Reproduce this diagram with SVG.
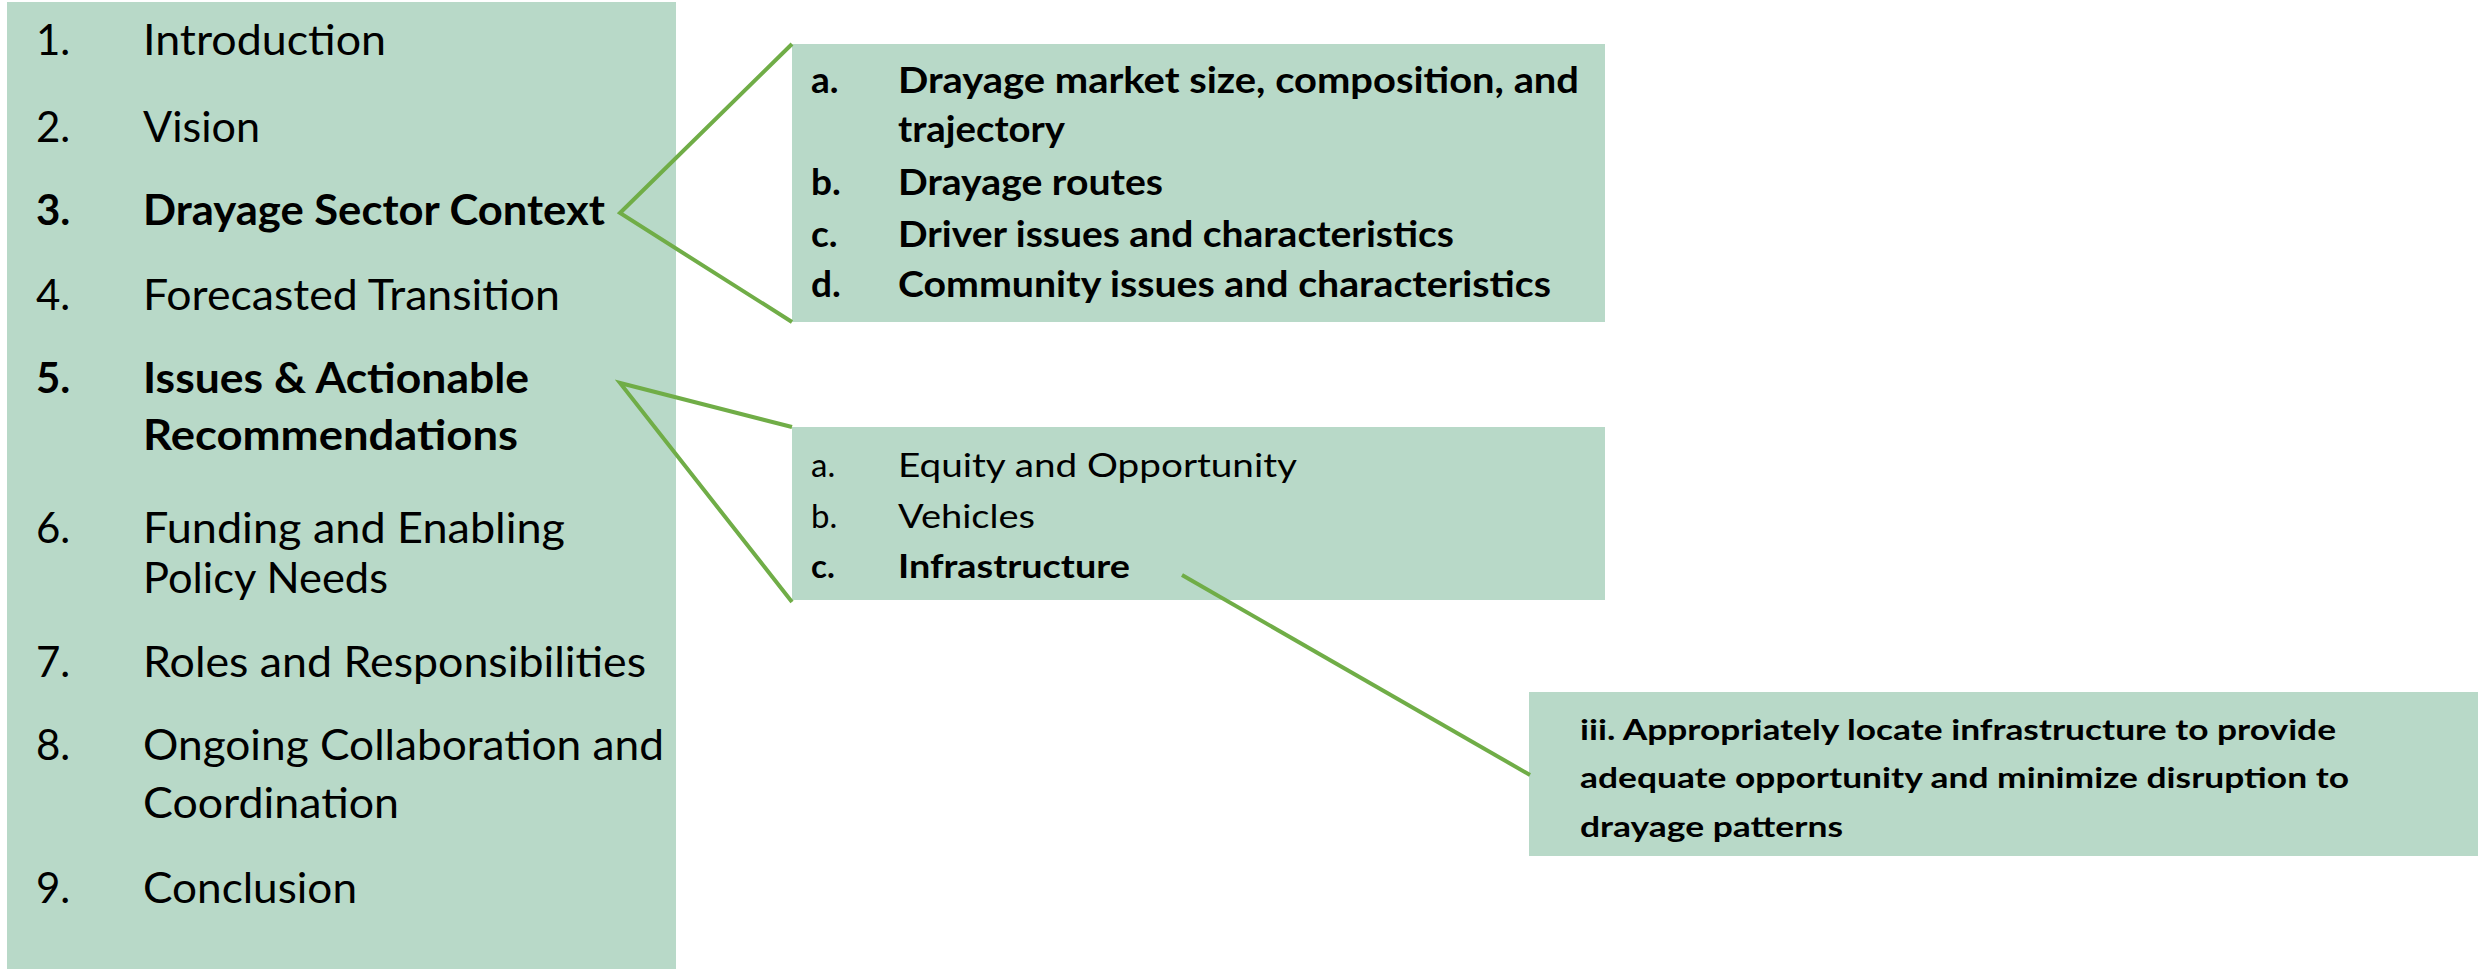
<svg xmlns="http://www.w3.org/2000/svg" width="2478" height="971" viewBox="0 0 2478 971">
  <style>
    .box { fill: #B8D9C8; }
    .t { font-family: "Lato", "Open Sans", "Liberation Sans", sans-serif; fill: #000; }
    .reg { font-weight: 400; }
    .bold { font-weight: 700; }
    .toc { font-size: 42px; }
    .sub { font-size: 37px; }
    .sub2 { font-size: 33px; }
    .note { font-size: 29px; font-weight: 700; }
    .link { stroke: #70AD47; stroke-width: 4; fill: none; stroke-linecap: butt; stroke-linejoin: miter; }
  </style>

  <!-- Table of contents -->
  <g id="toc">
    <rect class="box" x="7" y="2" width="669" height="967"/>
    <g class="t toc">
      <text class="reg" x="36" y="55">1.</text>
      <text class="reg" x="143" y="55" textLength="243" lengthAdjust="spacingAndGlyphs">Introduction</text>
      <text class="reg" x="36" y="142">2.</text>
      <text class="reg" x="143" y="142" textLength="117" lengthAdjust="spacingAndGlyphs">Vision</text>
      <text class="bold" x="36" y="225">3.</text>
      <text class="bold" x="143" y="225" textLength="462" lengthAdjust="spacingAndGlyphs">Drayage Sector Context</text>
      <text class="reg" x="36" y="310">4.</text>
      <text class="reg" x="143" y="310" textLength="417" lengthAdjust="spacingAndGlyphs">Forecasted Transition</text>
      <text class="bold" x="36" y="393">5.</text>
      <text class="bold" x="143" y="393" textLength="386" lengthAdjust="spacingAndGlyphs">Issues &amp; Actionable</text>
      <text class="bold" x="143" y="450" textLength="375" lengthAdjust="spacingAndGlyphs">Recommendations</text>
      <text class="reg" x="36" y="543">6.</text>
      <text class="reg" x="143" y="543" textLength="422" lengthAdjust="spacingAndGlyphs">Funding and Enabling</text>
      <text class="reg" x="143" y="593" textLength="245" lengthAdjust="spacingAndGlyphs">Policy Needs</text>
      <text class="reg" x="36" y="677">7.</text>
      <text class="reg" x="143" y="677" textLength="503" lengthAdjust="spacingAndGlyphs">Roles and Responsibilities</text>
      <text class="reg" x="36" y="760">8.</text>
      <text class="reg" x="143" y="760" textLength="521" lengthAdjust="spacingAndGlyphs">Ongoing Collaboration and</text>
      <text class="reg" x="143" y="818" textLength="256" lengthAdjust="spacingAndGlyphs">Coordination</text>
      <text class="reg" x="36" y="903">9.</text>
      <text class="reg" x="143" y="903" textLength="214" lengthAdjust="spacingAndGlyphs">Conclusion</text>
    </g>
  </g>

  <!-- Drayage sector context sub-sections -->
  <g id="context">
    <rect class="box" x="792" y="44" width="813" height="278"/>
    <g class="t sub bold">
      <text x="811" y="93">a.</text>
      <text x="898" y="93" textLength="681" lengthAdjust="spacingAndGlyphs">Drayage market size, composition, and</text>
      <text x="898" y="142" textLength="167" lengthAdjust="spacingAndGlyphs">trajectory</text>
      <text x="811" y="195">b.</text>
      <text x="898" y="195" textLength="265" lengthAdjust="spacingAndGlyphs">Drayage routes</text>
      <text x="811" y="247">c.</text>
      <text x="898" y="247" textLength="556" lengthAdjust="spacingAndGlyphs">Driver issues and characteristics</text>
      <text x="811" y="297">d.</text>
      <text x="898" y="297" textLength="653" lengthAdjust="spacingAndGlyphs">Community issues and characteristics</text>
    </g>
  </g>

  <!-- Issues and recommendations sub-sections -->
  <g id="issues">
    <rect class="box" x="792" y="427" width="813" height="173"/>
    <g class="t sub2">
      <text class="reg" x="811" y="477">a.</text>
      <text class="reg" x="898" y="477" textLength="399" lengthAdjust="spacingAndGlyphs">Equity and Opportunity</text>
      <text class="reg" x="811" y="528">b.</text>
      <text class="reg" x="898" y="528" textLength="137" lengthAdjust="spacingAndGlyphs">Vehicles</text>
      <text class="bold" x="811" y="578">c.</text>
      <text class="bold" x="898" y="578" textLength="232" lengthAdjust="spacingAndGlyphs">Infrastructure</text>
    </g>
  </g>

  <!-- Infrastructure recommendation -->
  <g id="infrastructure">
    <rect class="box" x="1529" y="692" width="949" height="164"/>
    <g class="t note">
      <text x="1580" y="740" textLength="756" lengthAdjust="spacingAndGlyphs">iii. Appropriately locate infrastructure to provide</text>
      <text x="1580" y="788" textLength="769" lengthAdjust="spacingAndGlyphs">adequate opportunity and minimize disruption to</text>
      <text x="1580" y="837" textLength="263" lengthAdjust="spacingAndGlyphs">drayage patterns</text>
    </g>
  </g>

  <!-- Connectors, drawn over the boxes -->
  <g id="connectors">
    <polyline class="link" points="792,44 620,213 792,322"/>
    <polyline class="link" points="792,427 620,383 792,602"/>
    <line class="link" x1="1182" y1="575" x2="1530" y2="775"/>
  </g>
</svg>
